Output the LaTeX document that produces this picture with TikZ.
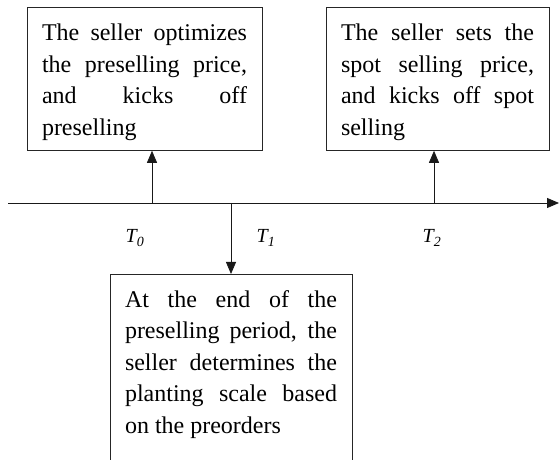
\documentclass[tikz,border=0pt]{standalone}
\usepackage{fontspec}
\setmainfont{Liberation Serif}
\usetikzlibrary{arrows.meta,positioning}
\hyphenpenalty=10000
\exhyphenpenalty=10000
\tolerance=10000
\newcommand{\firststrut}{\rule{0pt}{23pt}}
\tikzset{
  event/.style={draw=black!85, line width=0.8pt, align=justify, anchor=north,
    inner xsep=15pt, inner ysep=10pt, font=\fontsize{24}{31.5}\selectfont},
  tip/.style={-{Triangle[length=12pt,width=10pt]}, line width=0.8pt, black!90},
  tlabel/.style={font=\fontsize{20}{24}\selectfont\itshape, inner sep=0pt}
}
\begin{document}
\begin{tikzpicture}[x=1pt,y=1pt]
\useasboundingbox (0,0) rectangle (559,460);
\node[event, text width=205pt, minimum height=143pt] (presell) at (144.5,453)
  {\firststrut The seller optimizes the preselling price, and kicks off preselling};
\node[event, text width=193pt, minimum height=143pt] (spot) at (437.5,453)
  {\firststrut The seller sets the spot selling price, and kicks off spot selling};
\node[event, text width=212pt, minimum height=188pt] (plant) at (231,186)
  {\firststrut At the end of the preselling period, the seller determines the planting scale based on the preorders\rule[-19pt]{0pt}{19pt}};
\coordinate (start) at (8,257);
\coordinate (end) at (559,257);
\coordinate (t0) at (152,257);
\coordinate (t1) at (231,257);
\coordinate (t2) at (434,257);
\draw[tip] (start) -- (end);
\draw[tip] (t0) -- (t0 |- presell.south);
\draw[tip] (t2) -- (t2 |- spot.south);
\draw[tip] (t1) -- (plant.north);
\node[tlabel] (l0) at (135,222) {T\textsubscript{0}};
\node[tlabel] (l1) at (266,222) {T\textsubscript{1}};
\node[tlabel] (l2) at (432,222) {T\textsubscript{2}};
\end{tikzpicture}
\end{document}
